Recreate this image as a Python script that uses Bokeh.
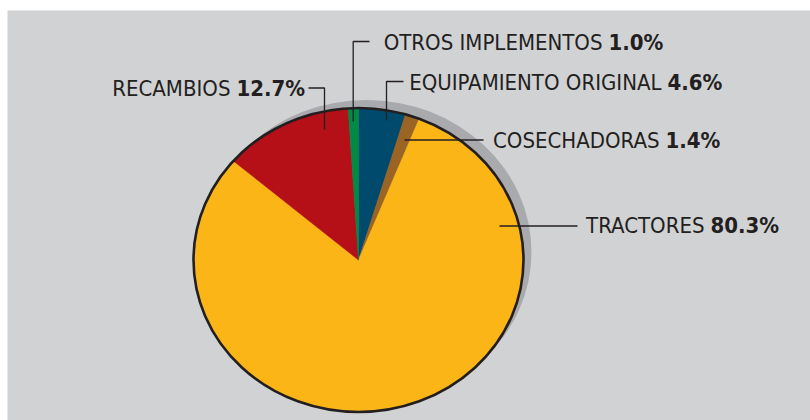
import numpy as np
from bokeh.plotting import figure
from bokeh.models import Range1d
from bokeh.core.properties import value
from bokeh.embed import file_html
from bokeh.resources import INLINE

# ---- data (clockwise from 12 o'clock) ----
categories = ["EQUIPAMIENTO ORIGINAL", "COSECHADORAS", "TRACTORES", "RECAMBIOS", "OTROS IMPLEMENTOS"]
shares = [4.6, 1.4, 80.3, 12.7, 1.0]
pct_labels = ["4.6%", "1.4%", "80.3%", "12.7%", "1.0%"]
colors = ["#004a6e", "#9a6424", "#fbb516", "#b50f18", "#008a45"]

# ---- layout ----
W, H = 810, 420
cx, cy, rx, ry = 358, 259.5, 165, 152
shadow_dx, shadow_dy = 8, -8
FONT = "'DejaVu Sans Condensed', 'DejaVu Sans', sans-serif"
FS = "22px"
INK = "#231f20"

# percent-label start x and y per category; category text is right-aligned just before it
label_pos = {
    "EQUIPAMIENTO ORIGINAL": (667, 82),
    "COSECHADORAS": (665, 140),
    "TRACTORES": (710, 225),
    "RECAMBIOS": (236, 88),
    "OTROS IMPLEMENTOS": (608, 42),
}
GAP = 6
leaders = {
    "EQUIPAMIENTO ORIGINAL": ([386, 386, 403], [120, 81, 81]),
    "COSECHADORAS": ([404, 483], [139.5, 139.5]),
    "TRACTORES": ([499, 577], [225.5, 225.5]),
    "RECAMBIOS": ([324, 324, 308], [129, 87.5, 87.5]),
    "OTROS IMPLEMENTOS": ([352.7, 352.7, 369], [121, 41, 41]),
}

p = figure(width=W, height=H, output_backend="svg", toolbar_location=None,
           x_range=Range1d(7, W), y_range=Range1d(H, 10),
           min_border_left=7, min_border_top=10, min_border_right=0, min_border_bottom=0)
p.axis.visible = False
p.grid.visible = False
p.outline_line_color = None
p.background_fill_color = "#d1d2d4"
p.border_fill_color = "white"

# shadow
p.ellipse(x=cx + shadow_dx, y=cy + shadow_dy, width=2 * rx, height=2 * ry,
          fill_color="#a8aaad", line_color=None)

# slices as elliptical wedges
total = sum(shares)
cum = np.concatenate([[0], np.cumsum(shares)]) / total
xs, ys = [], []
for i in range(len(shares)):
    t0 = np.pi / 2 - 2 * np.pi * cum[i]
    t1 = np.pi / 2 - 2 * np.pi * cum[i + 1]
    t = np.linspace(t0, t1, max(4, int(abs(t1 - t0) * 120)))
    xs.append([cx] + list(cx + rx * np.cos(t)))
    ys.append([cy] + list(cy - ry * np.sin(t)))
p.patches(xs=xs, ys=ys, fill_color=colors, line_color=colors, line_width=0.5)

# outline
p.ellipse(x=cx, y=cy, width=2 * rx, height=2 * ry, fill_color=None,
          line_color=INK, line_width=2.6)

# leader lines
p.multi_line(xs=[leaders[c][0] for c in categories], ys=[leaders[c][1] for c in categories],
             line_color=INK, line_width=1.3)

# labels
p.text(x=[label_pos[c][0] - GAP for c in categories], y=[label_pos[c][1] for c in categories],
       text=categories, text_font=value(FONT), text_font_size=FS, text_color=INK,
       text_align="right", text_baseline="middle")
p.text(x=[label_pos[c][0] for c in categories], y=[label_pos[c][1] for c in categories],
       text=pct_labels, text_font=value(FONT), text_font_size=FS, text_color=INK,
       text_font_style="bold", text_align="left", text_baseline="middle")

open("out.html", "w").write(file_html(p, INLINE))
